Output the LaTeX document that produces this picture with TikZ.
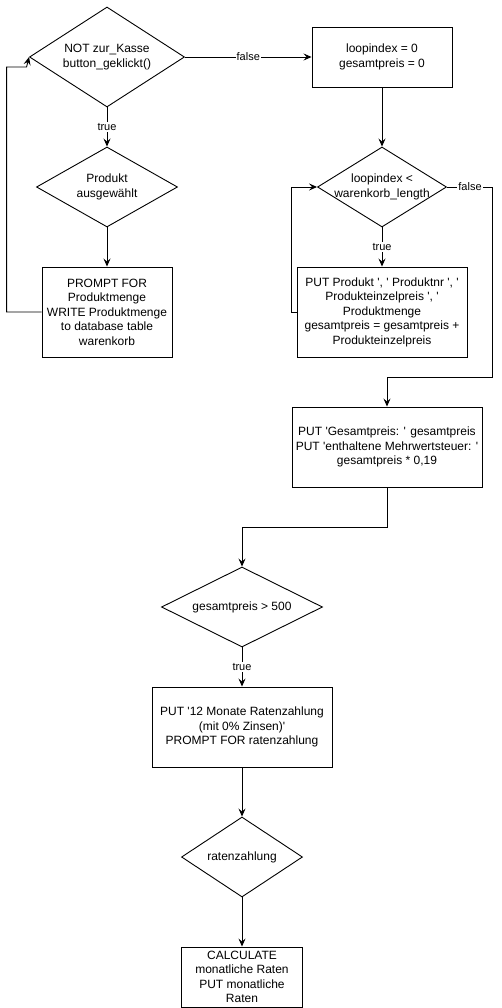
\documentclass[tikz,border=0pt]{standalone}
\usepackage{fontspec}
\setmainfont{Liberation Sans}
\usetikzlibrary{shapes.geometric,arrows.meta}
\newcommand\sq{\textquotesingle}
\begin{document}
\begin{tikzpicture}[x=1pt,y=-1pt,
  box/.style={draw,fill=white,rectangle,inner sep=0pt,align=center,line width=0.9pt,font=\fontsize{12}{14.5}\selectfont},
  dia/.style={draw,fill=white,diamond,inner sep=0pt,line width=0.9pt},
  dtext/.style={align=center,inner sep=0pt,font=\fontsize{12}{14.5}\selectfont},
  lab/.style={fill=white,inner sep=1pt,font=\fontsize{11}{13}\selectfont},
  conn/.style={line width=0.9pt,-{Stealth[length=8pt,width=7pt,inset=3pt]}}]
\useasboundingbox (0,0) rectangle (501,1008);
% nodes
\node[dia,minimum width=155pt,minimum height=100pt] (d1) at (107,57) {};
\node[dtext] at (d1) {NOT zur\_Kasse\\button\_geklickt()};
\node[box,minimum width=140pt,minimum height=60pt] (b1) at (382,57) {loopindex = 0\\gesamtpreis = 0};
\node[dia,minimum width=141pt,minimum height=80pt] (d2) at (107,187) {};
\node[dtext] at (d2) {Produkt\\ausgewählt};
\node[box,minimum width=130pt,minimum height=90pt] (b2) at (107,312) {PROMPT FOR\\Produktmenge\\WRITE Produktmenge\\to database table\\warenkorb};
\node[dia,minimum width=129pt,minimum height=80pt] (d3) at (382,187) {};
\node[dtext] at (d3) {loopindex <\\warenkorb\_length};
\node[box,minimum width=170pt,minimum height=90pt] (b3) at (382,312) {PUT Produkt \sq, \sq{} Produktnr \sq, \sq\\Produkteinzelpreis \sq, \sq\\Produktmenge\\gesamtpreis = gesamtpreis +\\Produkteinzelpreis};
\node[box,minimum width=190pt,minimum height=80pt] (b4) at (387,447) {PUT \sq Gesamtpreis: \sq{} gesamtpreis\\PUT \sq enthaltene Mehrwertsteuer: \sq\\gesamtpreis * 0,19};
\node[dia,minimum width=161pt,minimum height=80pt] (d4) at (242,607) {};
\node[dtext] at (d4) {gesamtpreis > 500};
\node[box,minimum width=180pt,minimum height=80pt] (b5) at (242,727) {PUT \sq 12 Monate Ratenzahlung\\(mit 0\% Zinsen)\sq\\PROMPT FOR ratenzahlung};
\node[dia,minimum width=121pt,minimum height=80pt] (d5) at (242,857) {};
\node[dtext] at (d5) {ratenzahlung};
\node[box,minimum width=121pt,minimum height=60pt] (b6) at (242,977) {CALCULATE\\monatliche Raten\\PUT monatliche\\Raten};
% connectors
\draw[conn] (d1.east) -- node[lab] {false} (b1.west);
\draw[conn] (d1.south) -- node[lab] {true} (d2.north);
\draw[conn] (d2.south) -- (b2.north);
\draw[conn] (b2.west) -- ++(-35,0) |- ++(20,-245) -- (d1.west);
\draw[conn] (b1.south) -- (d3.north);
\draw[conn] (d3.south) -- node[lab] {true} (b3.north);
\draw[conn] (b3.west) -- ++(-5,0) |- (d3.west);
\draw[conn] (d3.east) -- (492,187) -- (492,377) -| (b4.north);
\node[lab] at (470,187) {false};
\draw[conn] (b4.south) -- ++(0,40) -| (d4.north);
\draw[conn] (d4.south) -- node[lab] {true} (b5.north);
\draw[conn] (b5.south) -- (d5.north);
\draw[conn] (d5.south) -- (b6.north);
\end{tikzpicture}
\end{document}
